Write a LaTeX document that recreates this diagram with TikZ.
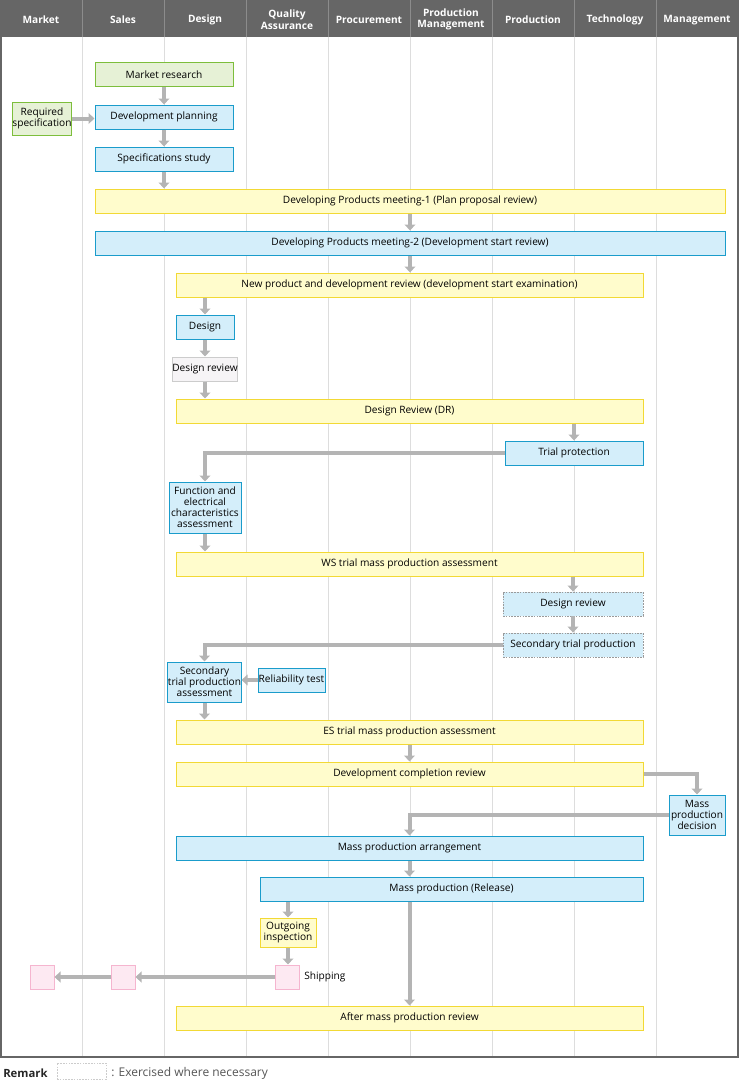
\documentclass[tikz,border=0pt]{standalone}
\usepackage{fontspec}
\setmainfont{Open Sans}
\usetikzlibrary{arrows.meta}
\definecolor{hdr}{HTML}{666666}
\definecolor{hdrline}{HTML}{8C8C8C}
\definecolor{grid}{HTML}{DDDDDD}
\definecolor{gfill}{HTML}{E6F1D6}
\definecolor{gline}{HTML}{7DBE3C}
\definecolor{bfill}{HTML}{D4EEFA}
\definecolor{bline}{HTML}{1A9CCB}
\definecolor{yfill}{HTML}{FFFCCC}
\definecolor{yline}{HTML}{F2D935}
\definecolor{gyfill}{HTML}{F6F4F6}
\definecolor{gyline}{HTML}{CCCCCC}
\definecolor{pfill}{HTML}{FDE9F2}
\definecolor{pline}{HTML}{F5B5CF}
\definecolor{agray}{HTML}{B4B4B4}
\definecolor{dline}{HTML}{9A9A9A}
\definecolor{remtxt}{HTML}{555555}
\begin{document}
\begin{tikzpicture}[x=0.75pt,y=-0.75pt,
  hdrtext/.style={text=white, font=\fontsize{7.6}{8.6}\selectfont\bfseries, align=center, inner sep=0pt},
  box/.style={draw, line width=0.75pt, inner sep=0pt, align=center, font=\fontsize{7.6}{8.3}\selectfont},
  bw/.style={minimum width=#1*0.75pt},
  bh/.style={minimum height=#1*0.75pt},
  gbox/.style={box, fill=gfill, draw=gline},
  bbox/.style={box, fill=bfill, draw=bline},
  ybox/.style={box, fill=yfill, draw=yline},
  gybox/.style={box, fill=gyfill, draw=gyline},
  pbox/.style={box, fill=pfill, draw=pline},
  dbox/.style={box, fill=bfill, draw=dline, line width=0.6pt, dash pattern=on 1.2pt off 0.9pt},
  arr/.style={draw=agray, line width=3pt, -{Triangle[width=8pt,length=4.5pt]}},
  lane/.style={draw=grid, line width=0.75pt},
  hsep/.style={draw=hdrline, line width=0.75pt}
]
\useasboundingbox (0,0) rectangle (739,1088);
% header
\fill[hdr] (0,0) rectangle (739,37);
\foreach \x in {82,164,246,328,410,492,574,656} {
  \draw[hsep] (\x,0) -- (\x,37);
  \draw[lane] (\x,37) -- (\x,1057);
}
\draw[hdr, line width=1.5pt] (0.9,37) -- (0.9,1057) -- (738,1057) -- (738,37);
\node[hdrtext] (hMarket) at (41,20) {Market};
\node[hdrtext] (hSales) at (123,20) {Sales};
\node[hdrtext] (hDesign) at (205,20) {Design};
\node[hdrtext] (hQA) at (287,19.5) {Quality\\Assurance};
\node[hdrtext] (hProc) at (369,20) {Procurement};
\node[hdrtext] (hPM) at (451,19.5) {Production\\Management};
\node[hdrtext] (hProd) at (533,20) {Production};
\node[hdrtext] (hTech) at (615,20) {Technology};
\node[hdrtext] (hMgmt) at (697,20) {Management};
% nodes
\node[gbox, bw=138, bh=24] (mr) at (164,75) {Market research};
\node[gbox, bw=58, bh=33] (req) at (42,118.5) {Required\\specification};
\node[bbox, bw=138, bh=24] (dp) at (164,117) {Development planning};
\node[bbox, bw=138, bh=24] (ss) at (164,159) {Specifications study};
\node[ybox, bw=630, bh=24] (m1) at (410,201) {Developing Products meeting-1 (Plan proposal review)};
\node[bbox, bw=630, bh=24] (m2) at (410,243) {Developing Products meeting-2 (Development start review)};
\node[ybox, bw=467, bh=24] (np) at (409.5,285) {New product and development review (development start examination)};
\node[bbox, bw=58, bh=24] (des) at (205,327) {Design};
\node[gybox, bw=58, bh=24] (dra) at (205,369) {Design review};
\node[ybox, bw=467, bh=24] (dr) at (409.5,411) {Design Review (DR)};
\node[bbox, bw=138, bh=24] (tp) at (574,453) {Trial protection};
\node[bbox, bw=72, bh=51] (fe) at (205,507.5) {Function and\\electrical\\characteristics\\assessment};
\node[ybox, bw=467, bh=24] (ws) at (409.5,564) {WS trial mass production assessment};
\node[dbox, bw=140, bh=24] (drb) at (573,604) {Design review};
\node[dbox, bw=140, bh=24] (stp) at (573,645) {Secondary trial production};
\node[bbox, bw=73, bh=40] (sta) at (204.5,682) {Secondary\\trial production\\assessment};
\node[bbox, bw=67, bh=24] (rel) at (291.5,680) {Reliability test};
\node[ybox, bw=467, bh=24] (es) at (409.5,732) {ES trial mass production assessment};
\node[ybox, bw=467, bh=24] (dcr) at (409.5,774) {Development completion review};
\node[bbox, bw=56, bh=40] (mpd) at (697,815) {Mass\\production\\decision};
\node[bbox, bw=467, bh=24] (mpa) at (409.5,848) {Mass production arrangement};
\node[bbox, bw=383, bh=24] (mp) at (451.5,889) {Mass production (Release)};
\node[ybox, bw=56, bh=29] (oi) at (288,932.5) {Outgoing\\inspection};
\node[pbox, bw=24, bh=24] (sh1) at (287.5,977) {};
\node[pbox, bw=24, bh=24] (sh2) at (123,977) {};
\node[pbox, bw=24, bh=24] (sh3) at (42,977) {};
\node[font=\fontsize{7.6}{8.3}\selectfont, anchor=west, inner sep=0pt] (shl) at (304,977) {Shipping};
\node[ybox, bw=467, bh=24] (amr) at (409.5,1018) {After mass production review};
% connectors
\draw[arr] (mr.south) -- (dp.north);
\draw[arr] (req.east) -- (req.east -| dp.west);
\draw[arr] (dp.south) -- (ss.north);
\draw[arr] (ss.south) -- (ss.south |- m1.north);
\draw[arr] (m1.south) -- (m2.north);
\draw[arr] (m2.south) -- (m2.south |- np.north);
\draw[arr] (des.north |- np.south) -- (des.north);
\draw[arr] (des.south) -- (dra.north);
\draw[arr] (dra.south) -- (dra.south |- dr.north);
\draw[arr] (tp.north |- dr.south) -- (tp.north);
\draw[arr] (tp.west) -| (fe.north);
\draw[arr] (fe.south) -- (fe.south |- ws.north);
\draw[arr] (drb.north |- ws.south) -- (drb.north);
\draw[arr] (drb.south) -- (stp.north);
\draw[arr] (stp.west) -| (sta.north);
\draw[arr] (rel.west) -- (rel.west -| sta.east);
\draw[arr] (sta.south) -- (sta.south |- es.north);
\draw[arr] (es.south) -- (dcr.north);
\draw[arr] (dcr.east) -| (mpd.north);
\draw[arr] (mpd.west) -| (mpa.north);
\draw[arr] (mpa.south) -- (mpa.south |- mp.north);
\draw[arr] (oi.north |- mp.south) -- (oi.north);
\draw[arr] (oi.south) -- (oi.south |- sh1.north);
\draw[arr] (mpa.south |- mp.south) -- (amr.north);
\draw[arr] (sh1.west) -- (sh2.east);
\draw[arr] (sh2.west) -- (sh3.east);
% remark
\node[anchor=west, inner sep=0pt, font=\fontsize{8.5}{9.5}\selectfont\bfseries, text=black!85] (rem) at (3,1073) {Remark};
\node[box, bw=49, bh=16, draw=gyline, line width=0.6pt, dash pattern=on 1.2pt off 0.9pt] (remb) at (81.5,1071) {};
\node[anchor=west, inner sep=0pt, font=\fontsize{9}{10}\selectfont, text=remtxt] (remt) at (111,1073) {: Exercised where necessary};
\end{tikzpicture}
\end{document}
